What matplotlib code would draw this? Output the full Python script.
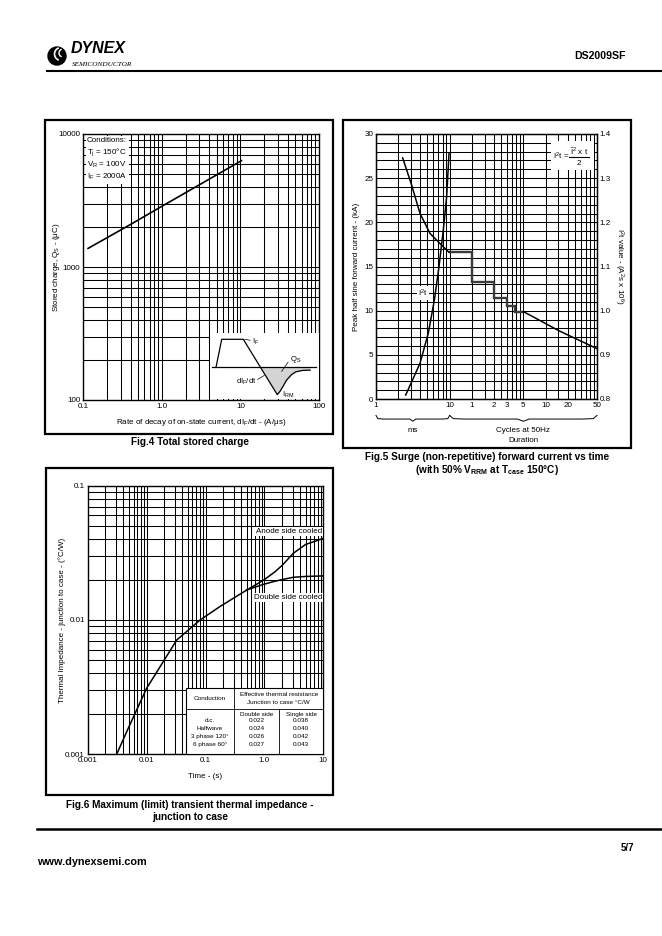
import numpy as np
import matplotlib
matplotlib.use('Agg')
import matplotlib.pyplot as plt
from matplotlib import ticker
from matplotlib.patches import Rectangle, Circle, Arc

plt.rcParams['font.family'] = ['Liberation Sans', 'DejaVu Sans']
plt.rcParams['mathtext.fontset'] = 'custom'
plt.rcParams['mathtext.rm'] = 'Liberation Sans'
plt.rcParams['mathtext.it'] = 'Liberation Sans:italic'
plt.rcParams['mathtext.bf'] = 'Liberation Sans:bold'

# ---- data ----
# Fig.4 total stored charge
qs_didt = [0.115, 0.4, 1.0, 3.0, 10.3]          # A/us
qs_charge = [1380, 2090, 2860, 4150, 6300]      # uC

# Fig.5 surge current (kA) vs duration (ms), I2t on right axis
surge_ms = [2.3, 3.05, 3.96, 5.4, 7.4, 9.8]
surge_ka = [27.3, 24.2, 21.0, 18.75, 17.6, 16.6]
step_edges_ms = [9.8, 20, 40, 60, 77, 100]
step_ka = [16.6, 13.2, 11.4, 10.5, 9.9]
tail_ms = [100, 300, 1000]
tail_ka = [9.9, 7.75, 5.7]
i2t_ms = [2.53, 3.96, 5.13, 6.2, 7.17, 8.2, 9.1, 9.8]
i2t_val = [0.809, 0.881, 0.949, 1.024, 1.100, 1.183, 1.258, 1.356]
dur_ticks = [1, 10, 20, 40, 60, 100, 200, 400, 1000]
dur_labels = ['1', '10', '1', '2', '3', '5', '10', '20', '50']

# Fig.6 transient thermal impedance
zth_t_common = [0.0031, 0.005, 0.01, 0.0192, 0.0325, 0.081, 0.176, 0.5]
zth_common = [0.001, 0.0016, 0.0031, 0.0049, 0.0071, 0.01, 0.0126, 0.0167]
zth_t_anode = [0.5, 0.7, 1.0, 1.5, 2.0, 3.1, 5.0, 10.0]
zth_anode = [0.0167, 0.0182, 0.0200, 0.0228, 0.0255, 0.0314, 0.0365, 0.0405]
zth_t_double = [0.5, 0.7, 1.0, 1.42, 2.0, 3.1, 5.0, 10.0]
zth_double = [0.0167, 0.0176, 0.0185, 0.0193, 0.0200, 0.0208, 0.0211, 0.0213]

conduction = ['d.c.', 'Halfwave', '3 phase 120°', '6 phase 60°']
rth_double = [0.022, 0.024, 0.026, 0.027]
rth_single = [0.038, 0.040, 0.042, 0.043]

# schematic waveform in the Fig.4 inset (inset units 0..1)
wave_x = [0.055, 0.108, 0.307, 0.62, 0.645, 0.675, 0.705, 0.75, 0.79, 0.85, 0.922]
wave_y = [0.48, 0.905, 0.905, 0.07, 0.12, 0.2, 0.288, 0.37, 0.414, 0.435, 0.44]

W, H = 662, 936
fs_tick = 5.8
fs_cap = 7.2

fig = plt.figure(figsize=(6.62, 9.36), dpi=100)


def frame(l, t, r, b):
    return [l / W, 1 - b / H, (r - l) / W, (b - t) / H]


bg = fig.add_axes([0, 0, 1, 1], zorder=0)
bg.set_xlim(0, W)
bg.set_ylim(H, 0)
bg.axis('off')

# header / footer
bg.plot([47, 662], [71, 71], color='k', lw=1.5)
bg.plot([37, 662], [829, 829], color='k', lw=1.8)
bg.add_patch(Circle((57, 56), 9, color='k'))
bg.add_patch(Arc((61, 54), 13, 13, theta1=110, theta2=250, color='white', lw=1.2))
bg.add_patch(Arc((63, 53), 8, 8, theta1=110, theta2=250, color='white', lw=1.0))
bg.text(71, 56, 'DYNEX', fontsize=11.5, fontweight='heavy', style='italic', va='bottom', ha='left')
bg.text(72, 64.5, 'SEMICONDUCTOR', fontsize=5.2, family='Liberation Serif', style='italic', va='center', ha='left')
bg.text(626, 56, 'DS2009SF', fontsize=7.6, fontweight='bold', ha='right', va='center')
bg.text(634, 848, '5/7', fontsize=7, fontweight='bold', ha='right', va='center')
bg.text(37, 862, 'www.dynexsemi.com', fontsize=7.8, fontweight='bold', ha='left', va='center')

# figure boxes
for (l, t, r, b) in [(45, 120, 333, 434), (343, 120, 631, 448), (46, 468, 333, 795)]:
    bg.add_patch(Rectangle((l, t), r - l, b - t, fill=False, ec='k', lw=1.6))

bg.text(190, 442, 'Fig.4 Total stored charge', fontsize=fs_cap, fontweight='bold', ha='center', va='center')
bg.text(487, 457, 'Fig.5 Surge (non-repetitive) forward current vs time', fontsize=fs_cap,
        fontweight='bold', ha='center', va='center')
bg.text(487, 470, r'(with 50% V$_{\mathbf{RRM}}$ at T$_{\mathbf{case}}$ 150°C)', fontsize=fs_cap,
        fontweight='bold', ha='center', va='center')
bg.text(190, 805, 'Fig.6 Maximum (limit) transient thermal impedance -', fontsize=fs_cap,
        fontweight='bold', ha='center', va='center')
bg.text(190, 817, 'junction to case', fontsize=fs_cap, fontweight='bold', ha='center', va='center')


def log_grid(ax, axis):
    loc_minor = ticker.LogLocator(base=10, subs=np.arange(2, 10))
    if axis == 'x':
        ax.xaxis.set_minor_locator(loc_minor)
        ax.xaxis.set_minor_formatter(ticker.NullFormatter())
    else:
        ax.yaxis.set_minor_locator(loc_minor)
        ax.yaxis.set_minor_formatter(ticker.NullFormatter())


def style(ax):
    ax.set_axisbelow(True)
    ax.grid(True, which='both', color='k', lw=0.75)
    ax.tick_params(which='both', length=0, labelsize=fs_tick, pad=2)
    for s in ax.spines.values():
        s.set_linewidth(1.0)


# ---------------- Fig.4 ----------------
ax4 = fig.add_axes(frame(83.3, 134, 319, 400), zorder=1)
ax4.set_xscale('log')
ax4.set_yscale('log')
ax4.set_xlim(0.1, 100)
ax4.set_ylim(100, 10000)
log_grid(ax4, 'x')
log_grid(ax4, 'y')
ax4.set_xticks([0.1, 1, 10, 100], ['0.1', '1.0', '10', '100'])
ax4.set_yticks([100, 1000, 10000], ['100', '1000', '10000'])
style(ax4)
ax4.plot(qs_didt, qs_charge, color='k', lw=1.2)
ax4.set_xlabel(r'Rate of decay of on-state current, dI$_\mathregular{F}$/dt - (A/μs)', fontsize=fs_tick, va='center')
ax4.xaxis.set_label_coords(0.5, -0.086)
ax4.set_ylabel(r'Stored charge, Q$_\mathregular{S}$ - (μC)', fontsize=fs_tick, va='center')
ax4.yaxis.set_label_coords(-0.112, 0.5)
ax4.text(0.016, 0.99, 'Conditions:\nT$_\\mathregular{j}$ = 150°C\nV$_\\mathregular{R}$ = 100V\nI$_\\mathregular{F}$ = 2000A',
         transform=ax4.transAxes, fontsize=fs_tick, va='top', ha='left', linespacing=1.3,
         bbox=dict(fc='white', ec='none', pad=1.0))

# inset schematic
axi = fig.add_axes(frame(210, 333, 318.5, 399.3), zorder=3)
axi.set_xlim(0, 1)
axi.set_ylim(0, 1)
axi.set_xticks([])
axi.set_yticks([])
for s in axi.spines.values():
    s.set_visible(False)
axi.set_facecolor('white')
xs = np.linspace(0.466, 0.922, 60)
cur = np.interp(xs, wave_x, wave_y)
axi.fill_between(xs, cur, 0.48, where=cur <= 0.48, color='#d4d4d4', lw=0)
axi.plot([0.016, 0.977], [0.48, 0.48], color='k', lw=0.9)
axi.plot(wave_x, wave_y, color='k', lw=0.9)
axi.plot([0.32, 0.37], [0.905, 0.89], color='k', lw=0.5)
axi.text(0.385, 0.86, r'I$_\mathregular{F}$', fontsize=5.5, va='center', ha='left')
axi.plot([0.66, 0.72], [0.42, 0.56], color='k', lw=0.5)
axi.text(0.74, 0.6, r'Q$_\mathregular{S}$', fontsize=5.5, va='center', ha='left')
axi.plot([0.44, 0.5], [0.3, 0.36], color='k', lw=0.5)
axi.text(0.43, 0.26, r'dI$_\mathregular{F}$/dt', fontsize=5.5, va='center', ha='right')
axi.text(0.66, 0.06, r'I$_\mathregular{RM}$', fontsize=5.5, va='center', ha='left')

# ---------------- Fig.5 ----------------
ax5 = fig.add_axes(frame(376, 134, 597, 399), zorder=1)
ax5.set_xscale('log')
ax5.set_xlim(1, 1000)
ax5.set_ylim(0, 30)
log_grid(ax5, 'x')
ax5.set_xticks(dur_ticks, dur_labels)
ax5.set_yticks(range(0, 31, 5))
ax5.yaxis.set_minor_locator(ticker.MultipleLocator(1))
style(ax5)
ax5.plot(surge_ms, surge_ka, color='k', lw=1.1)
ax5.stairs(step_ka, step_edges_ms, baseline=None, color='#3a3a3a', lw=1.7)
ax5.plot(tail_ms, tail_ka, color='k', lw=1.1)
ax5.set_ylabel('Peak half sine forward current - (kA)', fontsize=fs_tick, va='center')
ax5.yaxis.set_label_coords(-0.086, 0.5)

ax5r = ax5.twinx()
ax5r.set_ylim(0.8, 1.4)
ax5r.set_yticks(np.round(np.arange(0.8, 1.41, 0.1), 1), ['0.8', '0.9', '1.0', '1.1', '1.2', '1.3', '1.4'])
ax5r.tick_params(length=0, labelsize=fs_tick, pad=2)
ax5r.plot(i2t_ms, i2t_val, color='k', lw=1.1)
ax5r.set_ylabel(r'I$^\mathregular{2}$t value - (A$^\mathregular{2}$s x 10$^\mathregular{6}$)', fontsize=fs_tick,
                rotation=270, va='center')
ax5r.yaxis.set_label_coords(1.1, 0.5)

ax5.text(0.213, 0.40, r'I$^\mathregular{2}$t', transform=ax5.transAxes, fontsize=fs_tick, ha='center',
         va='center', bbox=dict(fc='white', ec='none', pad=1.0), zorder=4)

# I2t formula box, top right
ax5.add_patch(Rectangle((0.79, 0.865), 0.195, 0.11, transform=ax5.transAxes, fc='white', ec='none', zorder=4))
ax5.text(0.80, 0.915, r'I$^\mathregular{2}$t =', transform=ax5.transAxes, fontsize=fs_tick, ha='left',
         va='center', zorder=5)
ax5.text(0.92, 0.935, r'$\hat{\mathrm{I}}$$^\mathregular{2}$ x t', transform=ax5.transAxes, fontsize=fs_tick,
         ha='center', va='center', zorder=5)
ax5.plot([0.875, 0.965], [0.913, 0.913], transform=ax5.transAxes, color='k', lw=0.8, zorder=5)
ax5.text(0.92, 0.89, '2', transform=ax5.transAxes, fontsize=fs_tick, ha='center', va='center', zorder=5)

# braces under the duration axis
xt = ax5.get_xaxis_transform()
brace_u = [0.0, 0.025, 0.1, 0.46, 0.5, 0.54, 0.9, 0.975, 1.0]
brace_v = [0.0, 0.55, 0.62, 0.62, 1.0, 0.62, 0.62, 0.55, 0.0]
for (x0, x1) in [(1, 10), (10, 1000)]:
    lx = np.log10(x0) + np.array(brace_u) * (np.log10(x1) - np.log10(x0))
    ax5.plot(10 ** lx, -0.062 - 0.022 * np.array(brace_v), color='k', lw=0.7,
             transform=xt, clip_on=False)
ax5.text(np.sqrt(10), -0.12, 'ms', transform=xt, fontsize=fs_tick, ha='center', va='center')
ax5.text(100, -0.12, 'Cycles at 50Hz', transform=xt, fontsize=fs_tick, ha='center', va='center')
ax5.text(100, -0.158, 'Duration', transform=xt, fontsize=fs_tick, ha='center', va='center')

# ---------------- Fig.6 ----------------
ax6 = fig.add_axes(frame(87.7, 485.7, 323.3, 754.3), zorder=1)
ax6.set_xscale('log')
ax6.set_yscale('log')
ax6.set_xlim(0.001, 10)
ax6.set_ylim(0.001, 0.1)
log_grid(ax6, 'x')
log_grid(ax6, 'y')
ax6.set_xticks([0.001, 0.01, 0.1, 1, 10], ['0.001', '0.01', '0.1', '1.0', '10'])
ax6.set_yticks([0.001, 0.01, 0.1], ['0.001', '0.01', '0.1'])
style(ax6)
ax6.plot(zth_t_common, zth_common, color='k', lw=1.1)
ax6.plot(zth_t_anode, zth_anode, color='k', lw=1.1)
ax6.plot(zth_t_double, zth_double, color='k', lw=1.1)
ax6.set_xlabel('Time - (s)', fontsize=fs_tick, va='center')
ax6.xaxis.set_label_coords(0.5, -0.081)
ax6.set_ylabel('Thermal Impedance - junction to case - (°C/W)', fontsize=fs_tick, va='center')
ax6.yaxis.set_label_coords(-0.109, 0.5)
ax6.text(0.995, 0.829, 'Anode side cooled', transform=ax6.transAxes, fontsize=fs_tick, ha='right',
         va='center', bbox=dict(fc='white', ec='none', pad=0.8))
ax6.text(0.995, 0.583, 'Double side cooled', transform=ax6.transAxes, fontsize=fs_tick, ha='right',
         va='center', bbox=dict(fc='white', ec='none', pad=0.8))

# thermal resistance table
tx0, tx1, tx2, tx3 = 0.416, 0.621, 0.812, 1.0
ty_top, ty_mid = 0.245, 0.168
ax6.add_patch(Rectangle((tx0, 0), tx3 - tx0, ty_top, transform=ax6.transAxes, fc='white', ec='k',
                        lw=0.8, zorder=5))
ax6.plot([tx0, tx3], [ty_mid, ty_mid], transform=ax6.transAxes, color='k', lw=0.6, zorder=6)
ax6.plot([tx1, tx1], [0, ty_top], transform=ax6.transAxes, color='k', lw=0.6, zorder=6)
ax6.plot([tx2, tx2], [0, ty_mid], transform=ax6.transAxes, color='k', lw=0.6, zorder=6)
fs_tab = 4.6
ax6.text((tx0 + tx1) / 2, 0.206, 'Conduction', transform=ax6.transAxes, fontsize=fs_tab, ha='center',
         va='center', zorder=7)
ax6.text((tx1 + tx3) / 2, 0.224, 'Effective thermal resistance', transform=ax6.transAxes, fontsize=fs_tab,
         ha='center', va='center', zorder=7)
ax6.text((tx1 + tx3) / 2, 0.192, 'Junction to case °C/W', transform=ax6.transAxes, fontsize=fs_tab,
         ha='center', va='center', zorder=7)
ax6.text((tx1 + tx2) / 2, 0.150, 'Double side', transform=ax6.transAxes, fontsize=fs_tab, ha='center',
         va='center', zorder=7)
ax6.text((tx2 + tx3) / 2, 0.150, 'Single side', transform=ax6.transAxes, fontsize=fs_tab, ha='center',
         va='center', zorder=7)
for i, (c, d, s) in enumerate(zip(conduction, rth_double, rth_single)):
    yy = 0.124 - 0.029 * i
    ax6.text((tx0 + tx1) / 2, yy, c, transform=ax6.transAxes, fontsize=fs_tab, ha='center', va='center', zorder=7)
    ax6.text((tx1 + tx2) / 2, yy, f'{d:.3f}', transform=ax6.transAxes, fontsize=fs_tab, ha='center',
             va='center', zorder=7)
    ax6.text((tx2 + tx3) / 2, yy, f'{s:.3f}', transform=ax6.transAxes, fontsize=fs_tab, ha='center',
             va='center', zorder=7)

fig.savefig('out.png', dpi=100)
